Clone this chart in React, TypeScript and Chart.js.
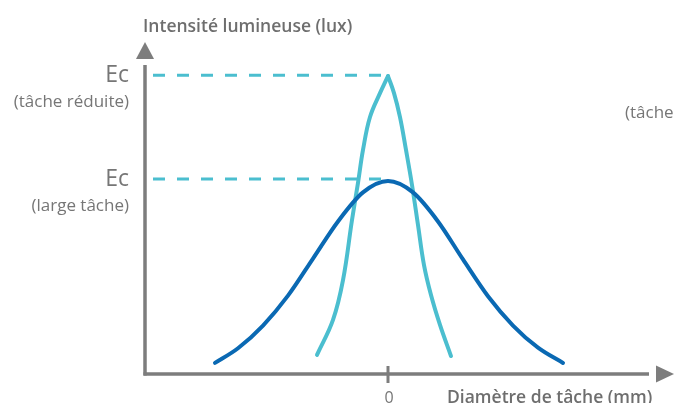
import React, { useEffect, useRef } from "react";
import { Chart, registerables } from "chart.js";

Chart.register(...registerables);

// Data (x: diameter units, 0 = centre; y: illuminance, arbitrary units)
const largeSpotX = [-17.3, -15, -12.5, -10, -7.5, -5, -2.5, 0, 2.5, 5, 7.5, 10, 12.5, 15, 17.5];
const largeSpotY = [3.7, 8.6, 16.2, 26.2, 38.6, 51.0, 60.7, 64.5, 60.7, 51.0, 38.3, 26.0, 16.2, 8.8, 3.7];

// small spot curve, split at its pointed peak
const smallSpotLeftX = [-7.1, -5.5, -4.5, -3.6, -3.0, -2.5, -1.8, -0.8, 0];
const smallSpotLeftY = [6.4, 18.1, 31.4, 51.5, 63.9, 74.9, 85.9, 93.9, 99.6];
const smallSpotRightX = [0, 0.6, 1.2, 1.8, 2.4, 3.0, 3.6, 4.3, 5.2, 6.3];
const smallSpotRightY = [99.6, 93.9, 85.9, 74.9, 63.2, 49.8, 36.4, 26.4, 16.4, 6.0];

const ecLevels = [99.9, 65.2];
const ecMainLabels = ["Ec", "Ec"];
const ecSubLabels = ["(tâche réduite)", "(large tâche)"];
const dashStartX = -23.5;

const xTickValues = [0];
const xTickLabels = ["0"];

const xMin = -24.3;
const xMax = 26.7;
const yMin = 0;
const yMax = 103.3;

const yTitle = "Intensité lumineuse (lux)";
const xTitle = "Diamètre de tâche (mm)";
const rightClippedLabel = "(tâche réduite)";

const DARK = "#0a69b3";
const LIGHT = "#4bbecf";
const AXIS = "#7d7d7d";
const TEXT = "#767676";
const FONT = "'Open Sans', 'Noto Sans', sans-serif";

const toPoints = (xs: number[], ys: number[]) => xs.map((x, i) => ({ x, y: ys[i] }));

const decorPlugin = {
  id: "decor",
  beforeDatasetsDraw(chart: any) {
    const { ctx, chartArea, scales } = chart;
    const xs = scales.x;
    const ys = scales.y;
    const left = chartArea.left;
    const bottom = chartArea.bottom;
    ctx.save();
    ctx.strokeStyle = AXIS;
    ctx.fillStyle = AXIS;
    ctx.lineWidth = 3.5;
    // y axis
    ctx.beginPath();
    ctx.moveTo(left, bottom + 1.5);
    ctx.lineTo(left, chartArea.top);
    ctx.stroke();
    // y arrow
    ctx.beginPath();
    ctx.moveTo(left, chartArea.top - 23);
    ctx.lineTo(left + 9, chartArea.top - 6);
    ctx.lineTo(left - 9, chartArea.top - 6);
    ctx.closePath();
    ctx.fill();
    // x axis
    ctx.beginPath();
    ctx.moveTo(left - 1.5, bottom);
    ctx.lineTo(chartArea.right - 6, bottom);
    ctx.stroke();
    // x arrow
    ctx.beginPath();
    ctx.moveTo(chartArea.right + 1, bottom - 8.5);
    ctx.lineTo(chartArea.right + 19, bottom);
    ctx.lineTo(chartArea.right + 1, bottom + 8.5);
    ctx.closePath();
    ctx.fill();
    // ticks
    ctx.lineWidth = 3;
    ctx.textAlign = "center";
    ctx.textBaseline = "middle";
    ctx.font = `16px ${FONT}`;
    xTickValues.forEach((v, i) => {
      const px = xs.getPixelForValue(v);
      ctx.beginPath();
      ctx.moveTo(px, bottom - 8);
      ctx.lineTo(px, bottom + 9);
      ctx.stroke();
      ctx.fillStyle = TEXT;
      ctx.fillText(xTickLabels[i], px + 1, bottom + 24);
    });
    // titles
    ctx.fillStyle = "#6e6e6e";
    ctx.font = `600 17.5px ${FONT}`;
    ctx.textAlign = "left";
    ctx.fillText(yTitle, left - 2, 27);
    ctx.fillText(xTitle, 447, bottom + 24);
    // y labels
    ctx.fillStyle = TEXT;
    ctx.textAlign = "right";
    ecLevels.forEach((v, i) => {
      const py = ys.getPixelForValue(v);
      ctx.font = `23px ${FONT}`;
      ctx.fillText(ecMainLabels[i], left - 16, py);
      ctx.font = `17px ${FONT}`;
      ctx.fillText(ecSubLabels[i], left - 16, py + 27);
    });
    // clipped right label
    ctx.textAlign = "left";
    ctx.font = `17px ${FONT}`;
    ctx.fillText(rightClippedLabel, 625, 113);
    ctx.restore();
  },
};

const curveStyle = (color: string) => ({
  borderColor: color,
  borderWidth: 4,
  borderCapStyle: "round" as const,
  borderJoinStyle: "round" as const,
  pointRadius: 0,
});

export default function App() {
  const ref = useRef<HTMLCanvasElement | null>(null);
  useEffect(() => {
    document.body.style.margin = "0";
    if (!ref.current) return;
    const chart = new Chart(ref.current, {
      type: "line",
      data: {
        datasets: [
          {
            data: toPoints([dashStartX, 0], [ecLevels[0], ecLevels[0]]),
            borderColor: LIGHT,
            borderWidth: 3,
            borderDash: [12, 12],
            pointRadius: 0,
            tension: 0,
          },
          {
            data: toPoints([dashStartX, 0], [ecLevels[1], ecLevels[1]]),
            borderColor: LIGHT,
            borderWidth: 3,
            borderDash: [12, 12],
            pointRadius: 0,
            tension: 0,
          },
          {
            data: toPoints(largeSpotX, largeSpotY),
            ...curveStyle(DARK),
            cubicInterpolationMode: "monotone",
          },
          {
            data: toPoints(smallSpotLeftX, smallSpotLeftY),
            ...curveStyle(LIGHT),
            tension: 0.4,
          },
          {
            data: toPoints(smallSpotRightX, smallSpotRightY),
            ...curveStyle(LIGHT),
            tension: 0.4,
          },
        ],
      },
      options: {
        responsive: false,
        animation: false,
        layout: { padding: { left: 145, right: 19, top: 65, bottom: 29 } },
        plugins: { legend: { display: false }, tooltip: { enabled: false } },
        scales: {
          x: { type: "linear", min: xMin, max: xMax, display: false },
          y: { type: "linear", min: yMin, max: yMax, display: false },
        },
      },
      plugins: [decorPlugin],
    });
    return () => chart.destroy();
  }, []);
  return <canvas ref={ref} width={674} height={403} style={{ display: "block" }} />;
}
